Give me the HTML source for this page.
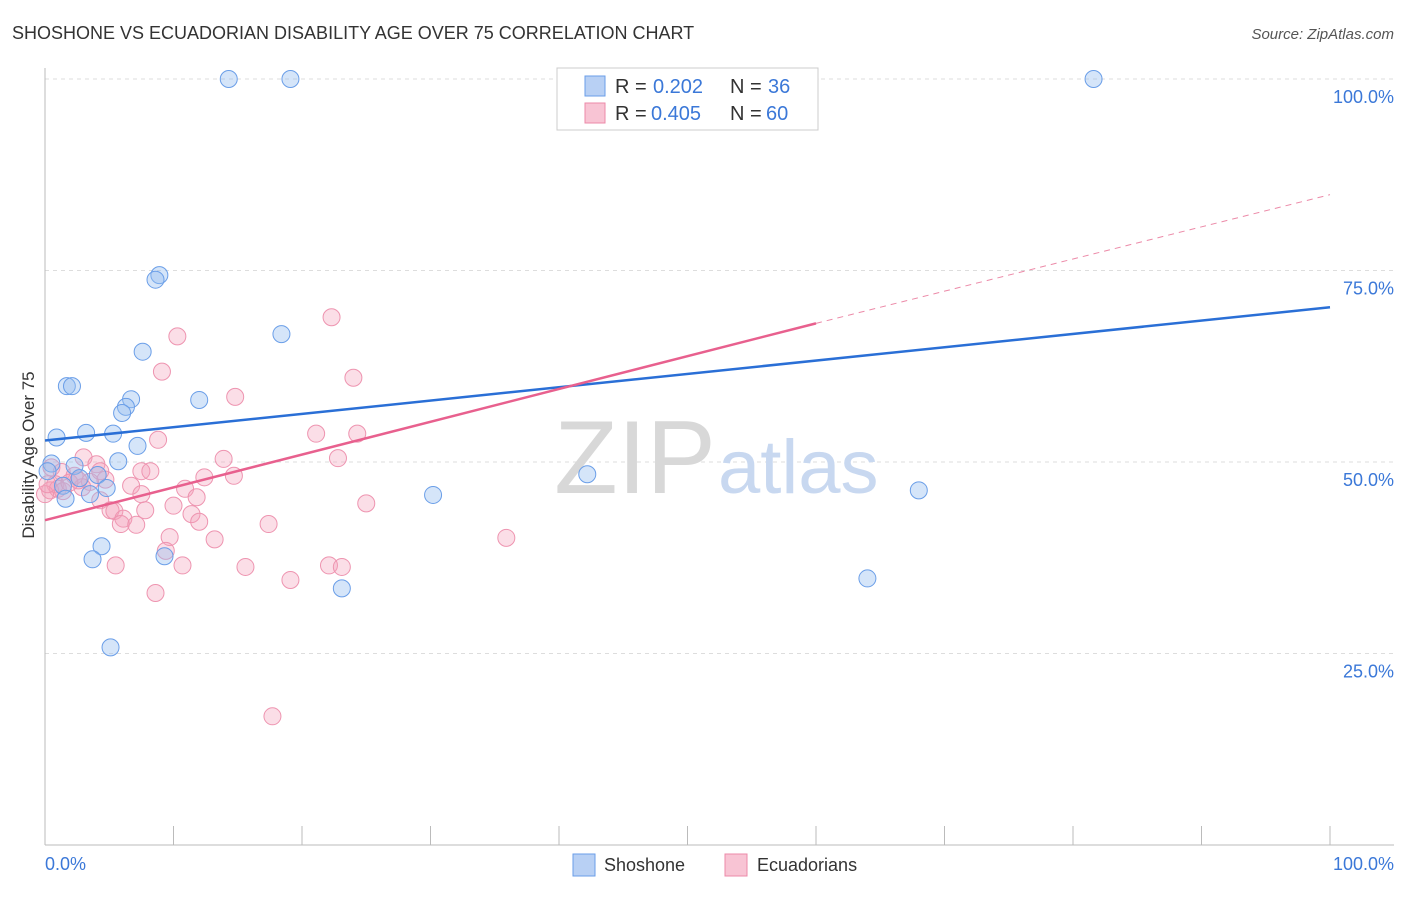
<!DOCTYPE html>
<html><head><meta charset="utf-8"><style>
body{margin:0;background:#fff;font-family:"Liberation Sans",sans-serif}
svg text{font-family:"Liberation Sans",sans-serif}
</style></head><body>
<svg width="1406" height="892">
<text x="12" y="39" font-size="18" fill="#333">SHOSHONE VS ECUADORIAN DISABILITY AGE OVER 75 CORRELATION CHART</text>
<text x="1394" y="39" font-size="15" fill="#555" text-anchor="end" font-style="italic">Source: ZipAtlas.com</text>
<g id="grid"></g>
<line x1="45" y1="68" x2="45" y2="845" stroke="#bbb"/>
<line x1="45" y1="845" x2="1394" y2="845" stroke="#bbb"/>
<text x="34" y="455" font-size="17" fill="#333" text-anchor="middle" transform="rotate(-90 34 455)">Disability Age Over 75</text>
<text x="45" y="870" font-size="18" fill="#3b78d8">0.0%</text>
<text x="1394" y="870" font-size="18" fill="#3b78d8" text-anchor="end">100.0%</text>
<text x="635" y="493" font-size="104" fill="#d8d8d8" text-anchor="middle" font-family="Liberation Serif">ZIP</text>
<text x="718" y="493" font-size="76" fill="#c8d8f0">atlas</text>
<g id="pts"></g>
<g id="lines"></g>
<rect x="557" y="68" width="261" height="62" fill="#fff" stroke="#ccc"/>
<rect x="585" y="76" width="20" height="20" fill="#b8d0f4" stroke="#6a9ee8"/>
<rect x="585" y="103" width="20" height="20" fill="#f8c4d4" stroke="#ec8aa8"/>
<text x="615" y="93" font-size="20" fill="#333">R = </text>
<text x="653" y="93" font-size="20" fill="#3b78d8">0.202</text>
<text x="730" y="93" font-size="20" fill="#333">N = </text>
<text x="768" y="93" font-size="20" fill="#3b78d8">36</text>
<text x="615" y="120" font-size="20" fill="#333">R = </text>
<text x="651" y="120" font-size="20" fill="#3b78d8">0.405</text>
<text x="730" y="120" font-size="20" fill="#333">N = </text>
<text x="766" y="120" font-size="20" fill="#3b78d8">60</text>
<rect x="573" y="854" width="22" height="22" fill="#b8d0f4" stroke="#6a9ee8"/>
<text x="604" y="871" font-size="18" fill="#333">Shoshone</text>
<rect x="725" y="854" width="22" height="22" fill="#f8c4d4" stroke="#ec8aa8"/>
<text x="757" y="871" font-size="18" fill="#333">Ecuadorians</text>
</svg>
<script>
const yTicks=[25,50,75,100];
const xTickMarks=[10,20,30,40,50,60,70,80,90,100];
const shoX=[14.3,19.1,81.6,8.9,8.6,18.4,7.6,1.7,2.1,12,6.7,6.3,6,0.9,3.2,5.3,7.2,5.7,0.5,2.3,0.2,4.1,2.7,4.8,1.4,3.5,1.6,30.2,42.2,68,4.4,3.7,9.3,23.1,64,5.1];
const shoY=[100,100,100,74.4,73.8,66.7,64.4,59.9,59.9,58.1,58.2,57.2,56.4,53.2,53.8,53.7,52.1,50.1,49.8,49.5,48.8,48.3,47.9,46.6,46.9,45.8,45.2,45.7,48.4,46.3,39,37.3,37.7,33.5,34.8,25.8];
const ecuX=[59.5,22.3,10.3,9.1,24,14.8,21.1,24.3,8.8,13.9,22.8,3,4,7.5,8.2,14.7,12.4,0.5,1.3,2.3,4.7,3.5,0.8,2.9,0.4,1,10.9,6.7,7.5,11.8,4.3,10,25,5.1,5.4,11.4,7.8,6.1,5.9,7.1,12,17.4,13.2,9.7,9.4,35.9,5.5,10.7,15.6,22.1,23.1,19.1,8.6,17.7,1.4,0,0.2,1.9,2.6,4.3];
const ecuY=[100,68.9,66.4,61.8,61,58.5,53.7,53.7,52.9,50.4,50.5,50.6,49.7,48.8,48.8,48.2,48.0,49.3,48.7,48.2,47.7,47.4,47.1,46.7,46.3,46.5,46.5,46.9,45.8,45.4,45,44.3,44.6,43.7,43.6,43.2,43.7,42.6,41.9,41.8,42.2,41.9,39.9,40.2,38.4,40.1,36.5,36.5,36.3,36.5,36.3,34.6,32.9,16.8,46.2,45.8,47.1,47.3,47.6,48.8];
const blueLine=[0,52.8,100,70.2];
const pinkLine=[0,42.4,60,68.1,100,84.9];
const X=v=>45+v*12.85, Y=v=>845-v*7.66;
const NS="http://www.w3.org/2000/svg";
const grid=document.getElementById('grid');
yTicks.forEach(t=>{
 const l=document.createElementNS(NS,'line');
 l.setAttribute('x1',45);l.setAttribute('x2',1394);l.setAttribute('y1',Y(t));l.setAttribute('y2',Y(t));
 l.setAttribute('stroke','#ddd');l.setAttribute('stroke-dasharray','4,4');
 
 
 grid.appendChild(l);
 const tx=document.createElementNS(NS,'text');
 tx.setAttribute('x',1394);tx.setAttribute('y',Y(t)+24);tx.setAttribute('text-anchor','end');
 tx.setAttribute('font-size','18');tx.setAttribute('fill','#3b78d8');tx.textContent=t.toFixed(1)+'%';
 
 
 grid.appendChild(tx);
});
xTickMarks.forEach(t=>{
 const l=document.createElementNS(NS,'line');
 l.setAttribute('x1',X(t));l.setAttribute('x2',X(t));l.setAttribute('y1',826);l.setAttribute('y2',845);
 l.setAttribute('stroke','#bbb');
 
 
 grid.appendChild(l);
});
const pts=document.getElementById('pts');
function dots(xs,ys,fill,stroke,name){xs.forEach((x,i)=>{
 const c=document.createElementNS(NS,'circle');
 c.setAttribute('cx',X(x));c.setAttribute('cy',Y(ys[i]));c.setAttribute('r',8.5);
 c.setAttribute('fill',fill);c.setAttribute('stroke',stroke);c.setAttribute('stroke-width','1');
 
 
 pts.appendChild(c);});}
dots(ecuX,ecuY,'rgba(244,160,185,0.35)','#ee94b0','ecuadorian-point');
dots(shoX,shoY,'rgba(150,190,240,0.4)','#6a9ee8','shoshone-point');
const lines=document.getElementById('lines');
function ln(x1,y1,x2,y2,col,dash,name){
 const l=document.createElementNS(NS,'line');
 l.setAttribute('x1',X(x1));l.setAttribute('y1',Y(y1));l.setAttribute('x2',X(x2));l.setAttribute('y2',Y(y2));
 l.setAttribute('stroke',col);l.setAttribute('stroke-width',dash?1:2.5);if(dash)l.setAttribute('stroke-dasharray','6,5');
 
 
 lines.appendChild(l);}
ln(blueLine[0],blueLine[1],blueLine[2],blueLine[3],'#2a6fd6',false,'shoshone-trendline');
ln(pinkLine[0],pinkLine[1],pinkLine[2],pinkLine[3],'#e8608e',false,'ecuadorian-trendline');
ln(pinkLine[2],pinkLine[3],pinkLine[4],pinkLine[5],'#ec8aa8',true,'ecuadorian-trendline-extension');
</script>
</body></html>
